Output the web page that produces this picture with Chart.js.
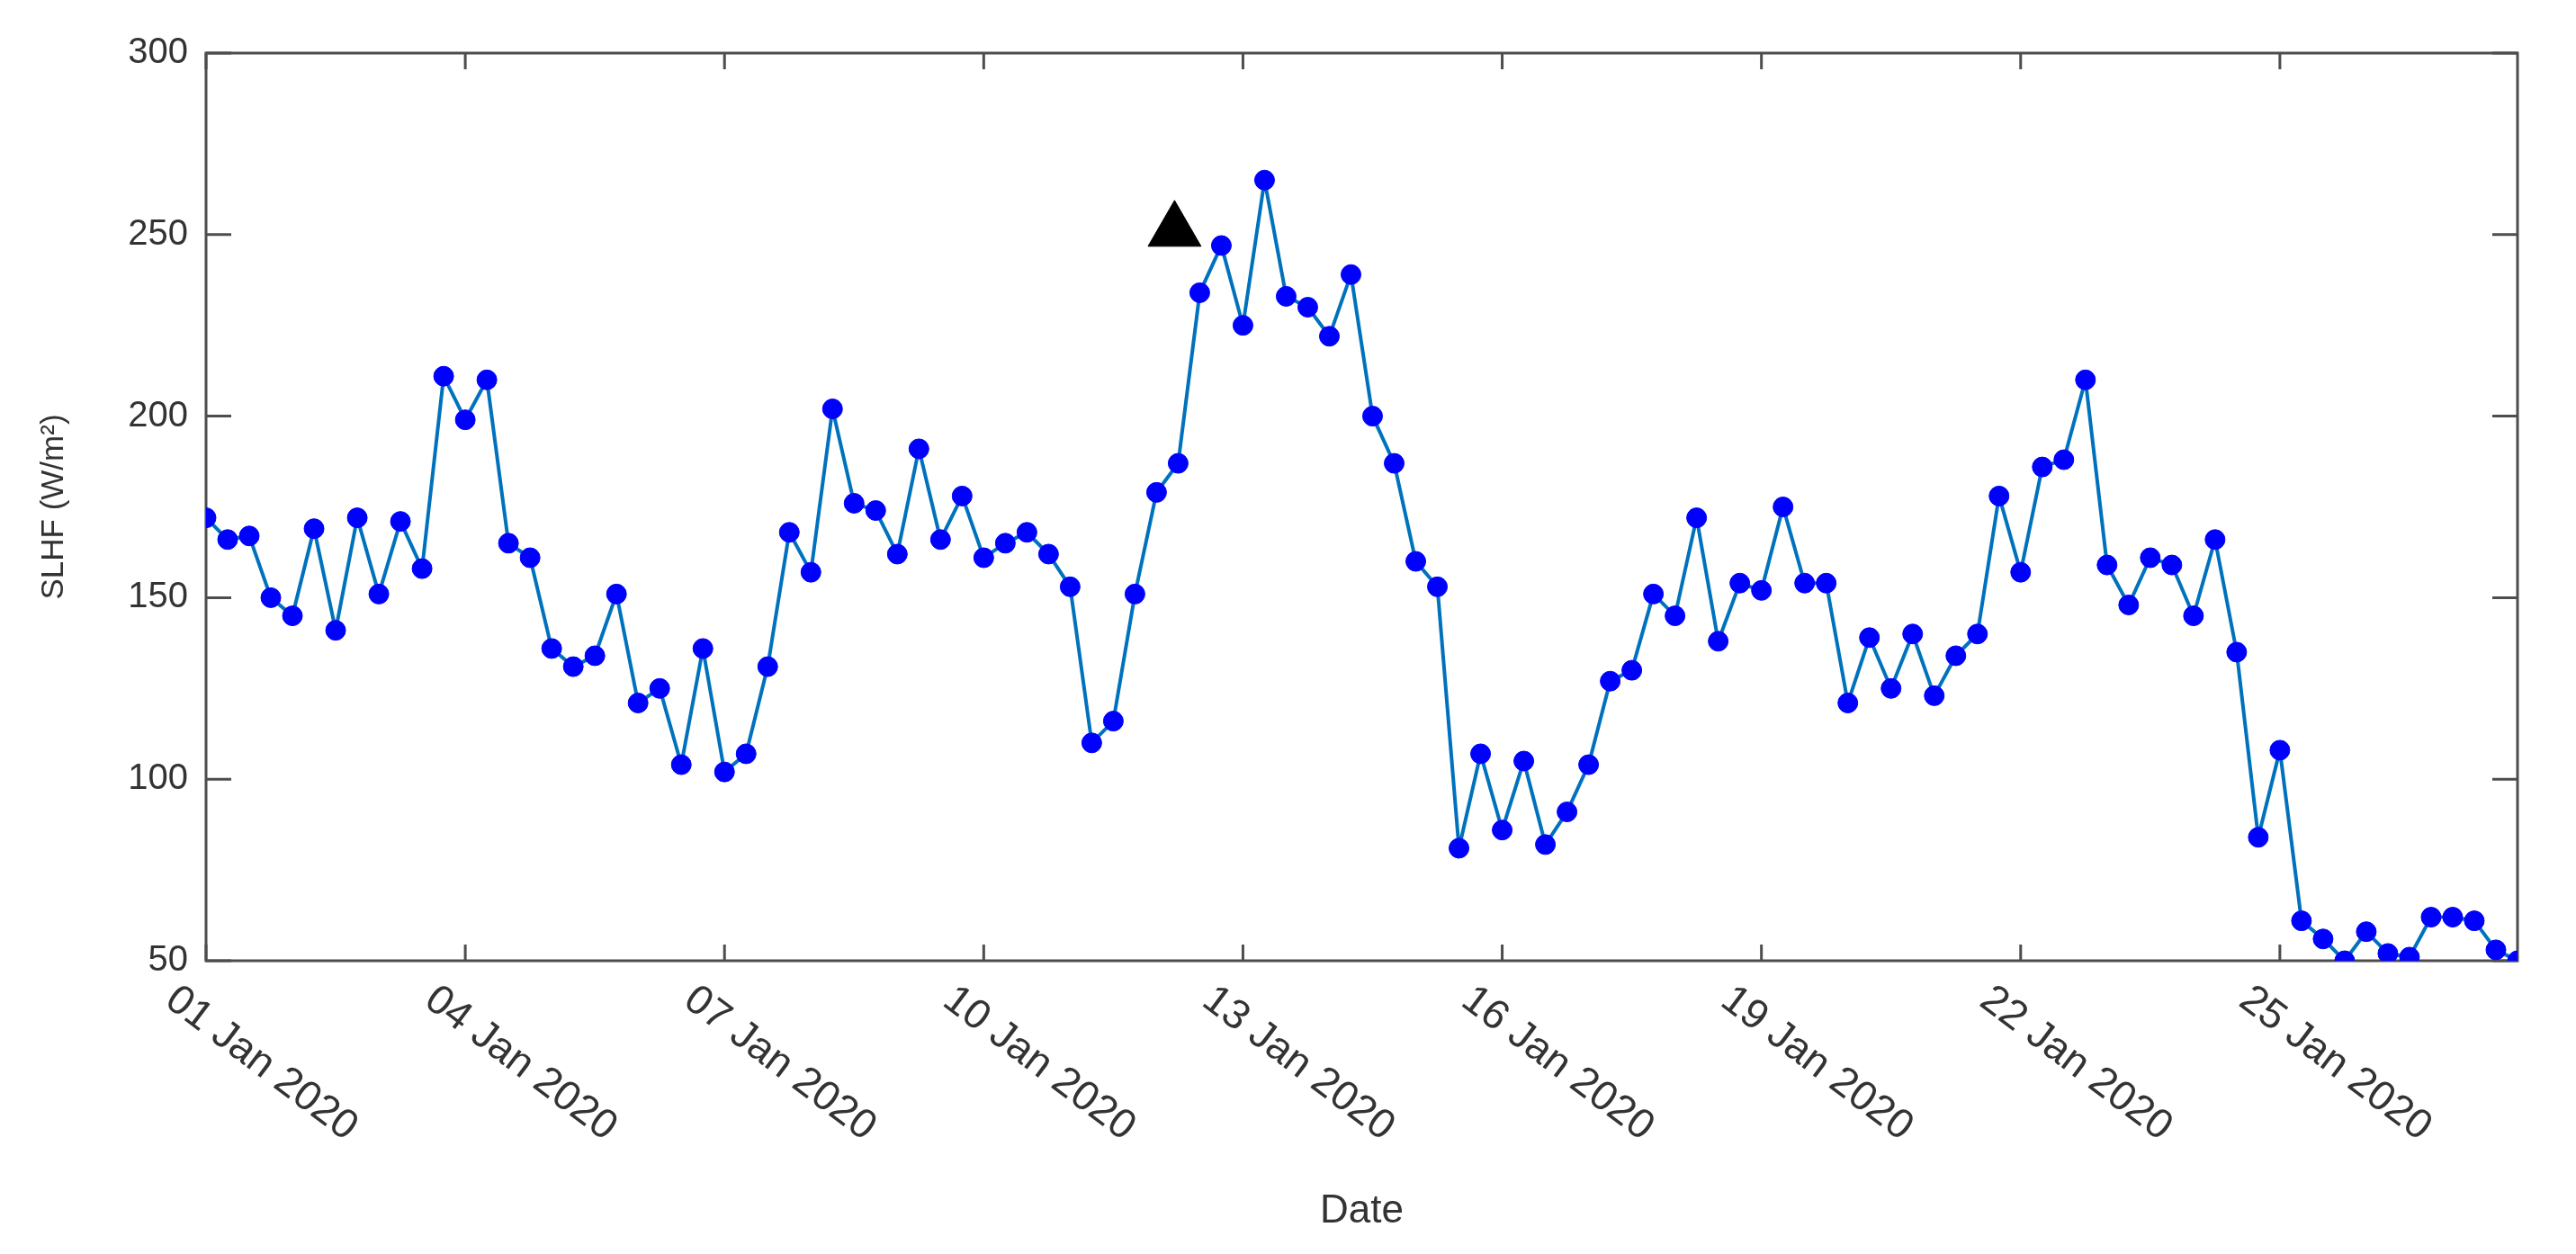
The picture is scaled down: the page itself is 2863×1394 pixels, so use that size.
<!DOCTYPE html>
<html>
<head>
<meta charset="utf-8">
<script src="https://cdn.jsdelivr.net/npm/chart.js@4"></script>
<style>
  html, body { margin: 0; padding: 0; background: #fff; }
  #wrap { width: 2863px; height: 1394px; }
</style>
</head>
<body>
<div id="wrap"><canvas id="myChart"></canvas></div>
<script>
// 6-hourly SLHF, 01 Jan 2020 00:00 .. 27 Jan 2020 18:00
const slhf = [
  172, 166, 167, 150,   145, 169, 141, 172,   151, 171, 158, 211,
  199, 210, 165, 161,   136, 131, 134, 151,   121, 125, 104, 136,
  102, 107, 131, 168,   157, 202, 176, 174,   162, 191, 166, 178,
  161, 165, 168, 162,   153, 110, 116, 151,   179, 187, 234, 247,
  225, 265, 233, 230,   222, 239, 200, 187,   160, 153, 81, 107,
  86, 105, 82, 91,      104, 127, 130, 151,   145, 172, 138, 154,
  152, 175, 154, 154,   121, 139, 125, 140,   123, 134, 140, 178,
  157, 186, 188, 210,   159, 148, 161, 159,   145, 166, 135, 84,
  108, 61, 56, 50,      58, 52, 51, 62,       62, 61, 53, 50
]
const stepHours = 6
const hours = slhf.map((v, i) => i * stepHours)

const xTickLabels = ['01 Jan 2020', '04 Jan 2020', '07 Jan 2020', '10 Jan 2020', '13 Jan 2020',
  '16 Jan 2020', '19 Jan 2020', '22 Jan 2020', '25 Jan 2020']
const xTickHours = xTickLabels.map((l, i) => i * 72)
const yTicks = [50, 100, 150, 200, 250, 300]

// black triangle marker
const markerHour = [269]
const markerValue = [251]

const axisColor = '#333333'
const frameColor = '#4d4d4d'

const framePlugin = {
  id: 'frame',
  beforeDatasetsDraw(chart) {
    const { ctx, chartArea: a, scales: { x, y } } = chart
    ctx.save()
    ctx.strokeStyle = frameColor
    ctx.lineWidth = 3
    ctx.strokeRect(a.left, a.top, a.right - a.left, a.bottom - a.top)
    ctx.beginPath()
    xTickHours.forEach(h => {
      const px = x.getPixelForValue(h)
      ctx.moveTo(px, a.bottom); ctx.lineTo(px, a.bottom - 18)
      ctx.moveTo(px, a.top); ctx.lineTo(px, a.top + 18)
    })
    yTicks.forEach(v => {
      const py = y.getPixelForValue(v)
      ctx.moveTo(a.left, py); ctx.lineTo(a.left + 28, py)
      ctx.moveTo(a.right, py); ctx.lineTo(a.right - 28, py)
    })
    ctx.stroke()
    ctx.restore()
  },
  afterDraw(chart) {
    const { ctx, chartArea: a, scales: { x, y } } = chart
    ctx.save()
    ctx.fillStyle = axisColor
    ctx.font = '40px "Liberation Sans", Arial, sans-serif'
    // y tick labels
    ctx.textAlign = 'right'
    ctx.textBaseline = 'middle'
    yTicks.forEach(v => ctx.fillText(String(v), a.left - 20, y.getPixelForValue(v)))
    // x tick labels, rotated down-right
    ctx.font = '46px "Liberation Sans", Arial, sans-serif'
    ctx.textAlign = 'left'
    ctx.textBaseline = 'top'
    xTickLabels.forEach((l, i) => {
      ctx.save()
      ctx.translate(x.getPixelForValue(xTickHours[i]) - 26, a.bottom + 20)
      ctx.rotate(37 * Math.PI / 180)
      ctx.fillText(l, 0, 0)
      ctx.restore()
    })
    // axis titles
    ctx.font = '44px "Liberation Sans", Arial, sans-serif'
    ctx.textAlign = 'center'
    ctx.textBaseline = 'middle'
    ctx.fillText('Date', (a.left + a.right) / 2, 1347)
    ctx.save()
    ctx.translate(60, (a.top + a.bottom) / 2)
    ctx.rotate(-Math.PI / 2)
    ctx.font = '35px "Liberation Sans", Arial, sans-serif'
    ctx.fillText('SLHF (W/m\u00B2)', 0, 0)
    ctx.restore()
    ctx.restore()
  }
}

const ctx = document.getElementById('myChart').getContext('2d')
new Chart(ctx, {
  type: 'line',
  data: {
    datasets: [
      {
        label: 'SLHF',
        data: hours.map((h, i) => ({ x: h, y: slhf[i] })),
        borderColor: '#0072BD',
        borderWidth: 4,
        pointRadius: 11,
        pointBackgroundColor: '#0000ff',
        pointBorderColor: '#0000ff',
        pointBorderWidth: 1,
        tension: 0
      },
      {
        label: 'marker',
        data: markerHour.map((h, i) => ({ x: h, y: markerValue[i] })),
        showLine: false,
        pointStyle: 'triangle',
        pointRadius: 34,
        pointBackgroundColor: '#000',
        pointBorderColor: '#000'
      }
    ]
  },
  options: {
    responsive: true,
    maintainAspectRatio: false,
    animation: false,
    layout: { padding: { top: 59, right: 65, left: 0, bottom: 0 } },
    plugins: { legend: { display: false }, tooltip: { enabled: false } },
    scales: {
      x: {
        type: 'linear',
        min: 0,
        max: hours[hours.length - 1],
        ticks: { display: false },
        grid: { display: false },
        border: { display: false },
        afterFit: s => { s.height = 326 }
      },
      y: {
        min: 50,
        max: 300,
        ticks: { display: false, stepSize: 50 },
        grid: { display: false },
        border: { display: false },
        afterFit: s => { s.width = 229 }
      }
    }
  },
  plugins: [framePlugin]
})
</script>
</body>
</html>
